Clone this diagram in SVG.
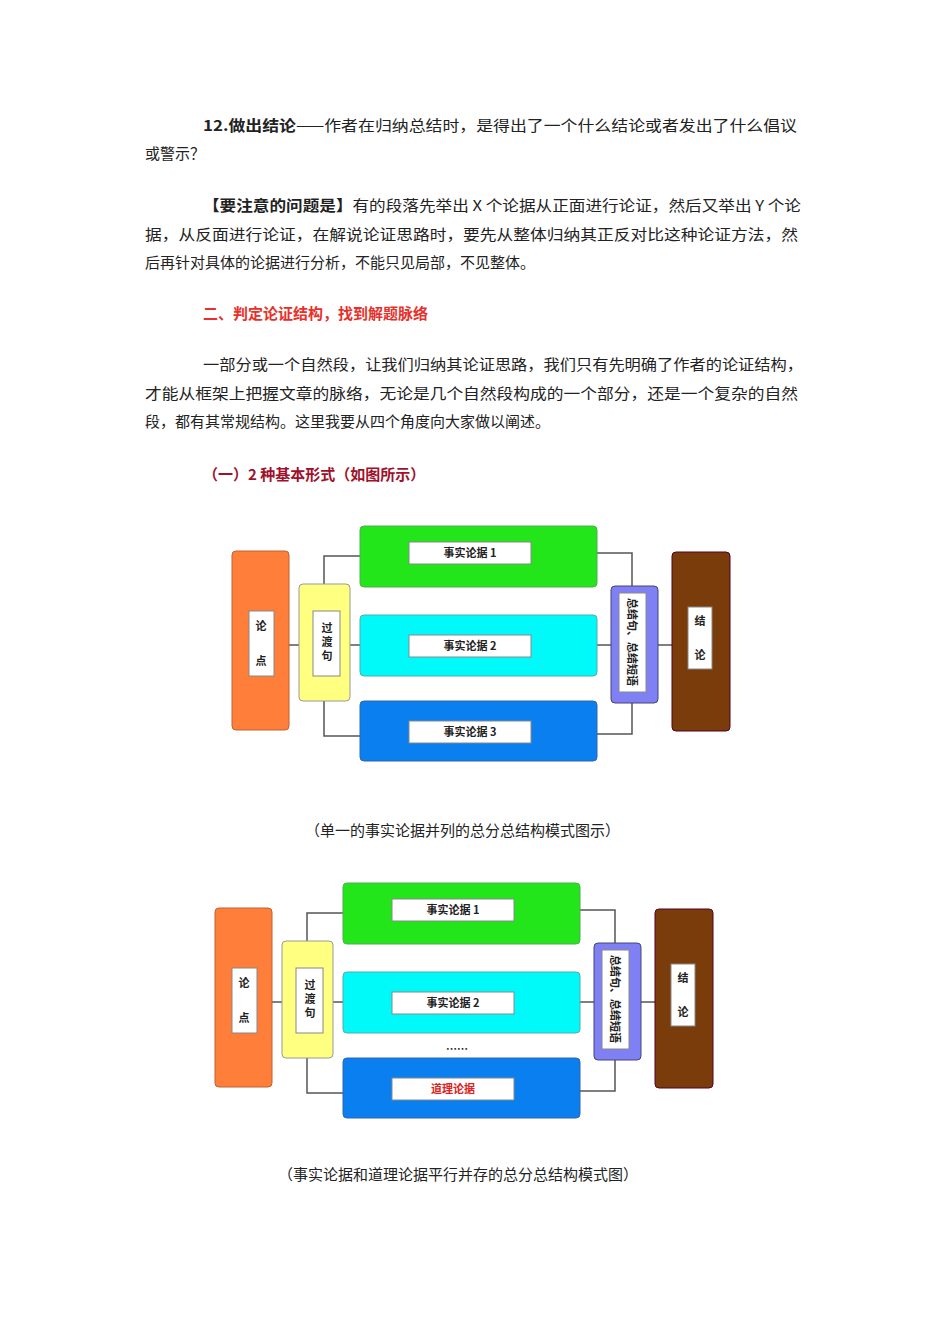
<svg xmlns="http://www.w3.org/2000/svg" width="950" height="1344" viewBox="0 0 950 1344">
<style>
.t{font-family:"Noto Sans CJK SC",sans-serif;font-size:15px;fill:#222}
.h{font-family:"Noto Sans CJK SC",sans-serif;font-size:15px;font-weight:bold}
.b{font-family:"Noto Sans CJK SC",sans-serif;font-size:11px;font-weight:bold;fill:#222;text-anchor:middle}
.c{stroke:#555;stroke-width:1.5;fill:none}
.w{fill:#fff;stroke:#888;stroke-width:1}
</style>
<rect width="950" height="1344" fill="#fff"/>
<text class="t" x="203" y="131" textLength="594" lengthAdjust="spacingAndGlyphs"><tspan font-weight="bold">12.做出结论</tspan>——作者在归纳总结时，是得出了一个什么结论或者发出了什么倡议</text>
<text class="t" x="145" y="159">或警示？</text>
<text class="t" x="203" y="211" textLength="598" lengthAdjust="spacingAndGlyphs"><tspan font-weight="bold">【要注意的问题是】</tspan>有的段落先举出 X 个论据从正面进行论证，然后又举出 Y 个论</text>
<text class="t" x="145" y="240" textLength="653" lengthAdjust="spacingAndGlyphs">据，从反面进行论证，在解说论证思路时，要先从整体归纳其正反对比这种论证方法，然</text>
<text class="t" x="145" y="268">后再针对具体的论据进行分析，不能只见局部，不见整体。</text>
<text class="h" x="203" y="319" fill="#e8302a">二、判定论证结构，找到解题脉络</text>
<text class="t" x="203" y="370" textLength="600" lengthAdjust="spacingAndGlyphs">一部分或一个自然段，让我们归纳其论证思路，我们只有先明确了作者的论证结构，</text>
<text class="t" x="145" y="399" textLength="653" lengthAdjust="spacingAndGlyphs">才能从框架上把握文章的脉络，无论是几个自然段构成的一个部分，还是一个复杂的自然</text>
<text class="t" x="145" y="427">段，都有其常规结构。这里我要从四个角度向大家做以阐述。</text>
<text class="h" x="203" y="480" fill="#a0102a">（一）2 种基本形式（如图所示）</text>
<text class="t" x="305" y="836">（单一的事实论据并列的总分总结构模式图示）</text>
<text class="t" x="278" y="1180">（事实论据和道理论据平行并存的总分总结构模式图）</text>
<defs>
<g id="d">
<g id="conn"><path class="c" d="M289 645H299M350 645H360M324 584V556H360M324 701V736H360M597 553H632V586M597 645H611M597 734H632V703M658 645H672"/></g>
<g id="n1"><rect x="232" y="551" width="57" height="179" rx="4" fill="#ff7f3a" stroke="#c06030"/><rect class="w" x="249" y="611" width="25" height="65"/><text class="b" x="261" y="630">论</text><text class="b" x="261" y="665">点</text></g>
<g id="n2"><rect x="299" y="584" width="51" height="117" rx="4" fill="#ffff80" stroke="#999"/><rect class="w" x="313" y="611" width="27" height="65"/><text class="b" x="327" y="632">过</text><text class="b" x="327" y="646">渡</text><text class="b" x="327" y="660">句</text></g>
<g id="n3"><rect x="360" y="526" width="237" height="61" rx="4" fill="#22e61a" stroke="#5a5"/><rect class="w" x="409" y="542" width="122" height="22"/></g>
<g id="n4"><rect x="360" y="615" width="237" height="61" rx="4" fill="#00fafa" stroke="#5aa"/><rect class="w" x="409" y="635" width="122" height="22"/><text class="b" x="470" y="650">事实论据 2</text></g>
<g id="n5"><rect x="360" y="701" width="237" height="60" rx="4" fill="#0a7ff0" stroke="#36a"/><rect class="w" x="409" y="721" width="122" height="22"/></g>
<g id="n6"><rect x="611" y="586" width="47" height="117" rx="4" fill="#8080f5" stroke="#447"/><rect class="w" x="619" y="593" width="27" height="99"/><text class="b" transform="translate(632,642) rotate(90)" y="4">总结句、总结短语</text></g>
<g id="n7"><rect x="672" y="552" width="58" height="179" rx="4" fill="#7a3c0a" stroke="#502"/><rect class="w" x="688" y="607" width="24" height="62"/><text class="b" x="700" y="625">结</text><text class="b" x="700" y="659">论</text></g>
<text class="b" x="470" y="557">事实论据 1</text>
</g>
</defs>
<g id="diagram1"><use href="#d"/><text class="b" x="470" y="736">事实论据 3</text></g>
<g id="diagram2" transform="translate(-17,357)"><use href="#d"/><text class="b" x="470" y="736" fill="#e02020" style="fill:#e02020">道理论据</text><text class="b" x="474" y="696">……</text></g>
</svg>
